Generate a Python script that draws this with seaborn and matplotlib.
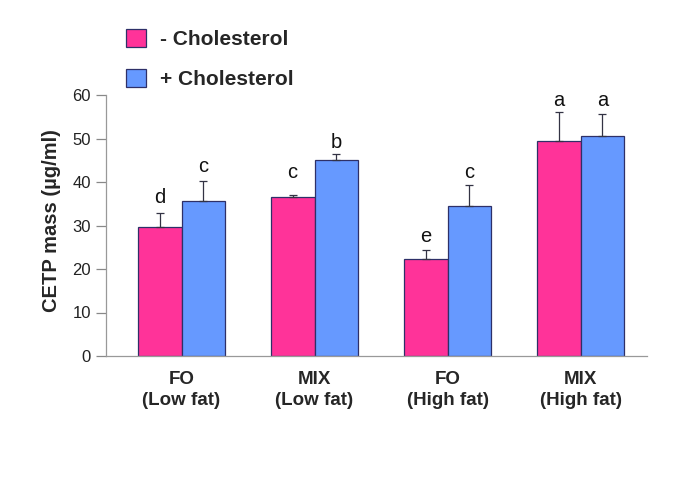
import matplotlib
matplotlib.use("Agg")
import matplotlib.pyplot as plt
import seaborn as sns
import pandas as pd
import numpy as np
from matplotlib.patches import Patch

sns.set_style("white")
plt.rcParams['font.family'] = ['Liberation Sans', 'DejaVu Sans']

groups = ["FO\n(Low fat)", "MIX\n(Low fat)", "FO\n(High fat)", "MIX\n(High fat)"]
series = ["- Cholesterol", "+ Cholesterol"]
minus_chol = [29.7, 36.6, 22.2, 49.4]
plus_chol = [35.6, 45.0, 34.4, 50.5]
minus_err = [3.2, 0.3, 2.1, 6.8]
plus_err = [4.7, 1.5, 4.8, 5.1]
minus_letters = ["d", "c", "e", "a"]
plus_letters = ["c", "b", "c", "a"]
minus_letter_y = [35.1, 40.9, 26.3, 57.5]
plus_letter_y = [42.4, 47.9, 40.9, 57.5]
yticks = [0, 10, 20, 30, 40, 50, 60]

pink = "#FF3399"
blue = "#6699FF"
edge = "#2E3068"

df = pd.DataFrame({
    "group": groups * 2,
    "series": [series[0]] * 4 + [series[1]] * 4,
    "value": minus_chol + plus_chol,
})

fig = plt.figure(figsize=(6.85, 4.97), dpi=100)
ax = fig.add_axes([105.7 / 685, 1 - 356 / 497, (647 - 105.7) / 685, (356 - 95) / 497])

sns.barplot(data=df, x="group", y="value", hue="series", order=groups,
            hue_order=series, palette=[pink, blue], saturation=1, width=0.66, gap=0,
            errorbar=None, edgecolor=edge, linewidth=0.9, ax=ax, legend=False)

bars_minus = ax.patches[:4]
bars_plus = ax.patches[4:8]
for bars, vals, errs, letters, ly in [
    (bars_minus, minus_chol, minus_err, minus_letters, minus_letter_y),
    (bars_plus, plus_chol, plus_err, plus_letters, plus_letter_y),
]:
    xs = [b.get_x() + b.get_width() / 2 for b in bars]
    ax.errorbar(xs, vals, yerr=[np.zeros(4), errs], fmt="none",
                ecolor="#333344", elinewidth=0.9, capsize=3, capthick=0.9)
    for x, l, y in zip(xs, letters, ly):
        ax.text(x, y, l, ha="center", va="baseline", fontsize=14.5, color="#111111")

ax.set_ylim(0, 60)
ax.set_xlim(-0.57, 3.5)
ax.set_yticks(yticks)
ax.set_yticklabels([str(t) for t in yticks], fontsize=12, color="#222222")
ax.set_xticks(range(4))
ax.set_xticklabels(groups, fontsize=13.5, fontweight="bold", linespacing=1.25)
ax.tick_params(axis="x", length=0, pad=11)
ax.tick_params(axis="y", length=7.5, width=0.9, color="#888888", pad=3, left=True)
ax.set_xlabel("")
ax.set_ylabel("CETP mass (µg/ml)", fontsize=14.5, fontweight="bold")
ax.yaxis.set_label_coords(-0.083, 0.52)

for s in ["top", "right"]:
    ax.spines[s].set_visible(False)
for s in ["left", "bottom"]:
    ax.spines[s].set_color("#999999")
    ax.spines[s].set_linewidth(0.9)

handles = [Patch(facecolor=pink, edgecolor=edge, linewidth=0.9),
           Patch(facecolor=blue, edgecolor=edge, linewidth=0.9)]
fig.legend(handles, series, loc="upper left", bbox_to_anchor=(126 / 685, 1 - 29 / 497),
           frameon=False, borderpad=0, borderaxespad=0, handlelength=0.97, handleheight=0.97,
           handletextpad=0.65, labelspacing=0.95, prop={"size": 15, "weight": "bold"})

fig.savefig("out.png", dpi=100)
